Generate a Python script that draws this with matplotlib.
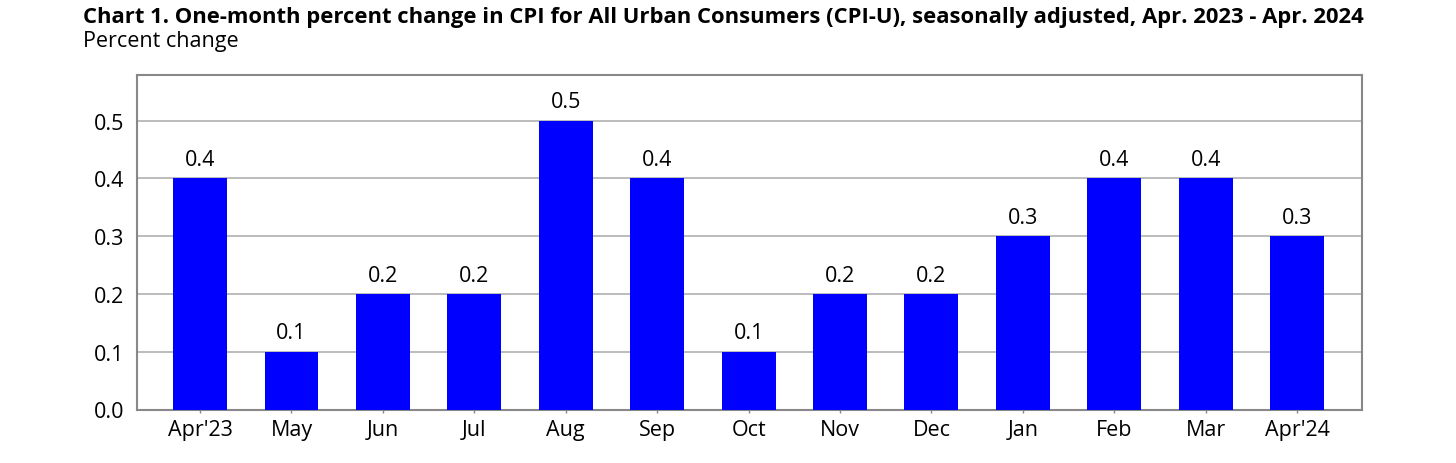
import matplotlib
matplotlib.use("Agg")
import matplotlib.pyplot as plt

plt.rcParams["font.family"] = ["Open Sans", "DejaVu Sans"]

months = ["Apr'23", "May", "Jun", "Jul", "Aug", "Sep", "Oct",
          "Nov", "Dec", "Jan", "Feb", "Mar", "Apr'24"]
pct_change = [0.4, 0.1, 0.2, 0.2, 0.5, 0.4, 0.1, 0.2, 0.2, 0.3, 0.4, 0.4, 0.3]
yticks = [0.0, 0.1, 0.2, 0.3, 0.4, 0.5]

fig = plt.figure(figsize=(14.56, 4.64), dpi=100)
ax = fig.add_axes([137 / 1456, 1 - 410.5 / 464, (1362 - 137) / 1456, (410.5 - 76) / 464])

x = list(range(len(months)))
ax.bar(x, pct_change, width=0.59, color="#0000ff", zorder=3)
for xi, v in zip(x, pct_change):
    ax.annotate("{:.1f}".format(v), (xi, v), xytext=(0, 6), textcoords="offset points",
                ha="center", va="bottom", fontsize=15.5)

ax.set_xlim(-0.69, 12.71)
ax.set_ylim(0, 0.579)
ax.set_yticks(yticks)
ax.set_yticklabels(["{:.1f}".format(t) for t in yticks])
ax.set_xticks(x)
ax.set_xticklabels(months)
ax.tick_params(axis="y", length=0, labelsize=15.5, pad=9)
ax.tick_params(axis="x", length=2, width=1, color="#888888", labelsize=15.5, pad=5)
ax.grid(axis="y", color="#b0b0b0", linewidth=1.2, zorder=1)
for s in ax.spines.values():
    s.set_color("#888888")
    s.set_linewidth(1.5)

fig.text(83 / 1456, 1 - 7 / 464,
         "Chart 1. One-month percent change in CPI for All Urban Consumers (CPI-U), seasonally adjusted, Apr. 2023 - Apr. 2024",
         fontsize=15.8, fontweight="bold", ha="left", va="top")
fig.text(83 / 1456, 1 - 31 / 464, "Percent change", fontsize=15.5, ha="left", va="top")

fig.savefig("out.png", dpi=100)
